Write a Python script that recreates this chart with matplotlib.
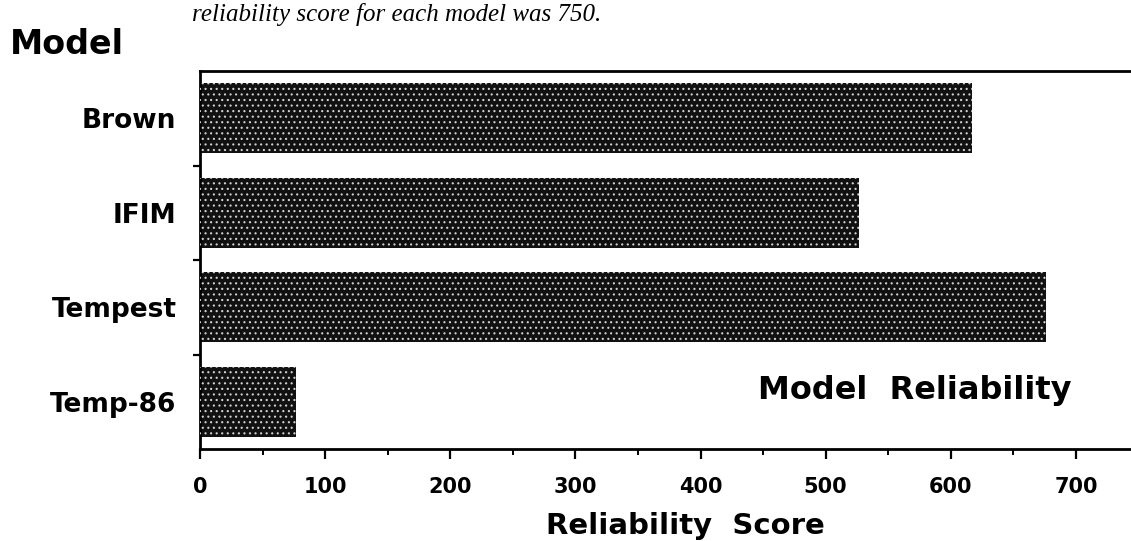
import matplotlib
matplotlib.use("Agg")
import matplotlib.pyplot as plt
import numpy as np

plt.rcParams["hatch.linewidth"] = 0.8

models = ["Brown", "IFIM", "Tempest", "Temp-86"]
scores = [617, 527, 676, 77]
xticks = [0, 100, 200, 300, 400, 500, 600, 700]

W, H = 1131, 541
fig = plt.figure(figsize=(W / 100, H / 100), dpi=100)
ax = fig.add_axes([200 / W, 1 - 449 / H, (W - 200) / W, (449 - 71) / H])

y = np.arange(len(models))
ax.barh(y, scores, height=0.74, color="#111111", linewidth=0, zorder=2)
ax.barh(y, scores, height=0.74, facecolor="none", edgecolor="#d0d0d0",
        hatch="...", linewidth=0, zorder=3)

ax.set_xlim(0, 744)
ax.set_ylim(3.5, -0.5)

ax.spines["right"].set_visible(False)
for s in ["left", "bottom", "top"]:
    ax.spines[s].set_linewidth(2.0)

ax.set_xticks(xticks)
ax.set_xticks(np.arange(50, 744, 100), minor=True)
ax.set_xticklabels([str(v) for v in xticks], fontsize=15, fontweight="bold",
                   family="DejaVu Sans")
ax.tick_params(axis="x", which="major", direction="out", length=7, width=1.6, pad=13)
ax.tick_params(axis="x", which="minor", direction="out", length=4, width=1.4)

ax.set_yticks(y)
ax.set_yticklabels(models, fontsize=19, fontweight="bold", family="DejaVu Sans")
ax.set_yticks([0.5, 1.5, 2.5], minor=True)
ax.tick_params(axis="y", which="major", length=0, pad=17)
ax.tick_params(axis="y", which="minor", direction="out", length=5, width=1.6)

fig.text(685 / W, 1 - 526 / H, "Reliability  Score", fontsize=21, fontweight="bold",
         ha="center", va="center")
fig.text(758 / W, 1 - 390 / H, "Model  Reliability", fontsize=23, fontweight="bold",
         ha="left", va="center")
fig.text(10 / W, 1 - 44 / H, "Model", fontsize=24, fontweight="bold",
         ha="left", va="center")
fig.text(192 / W, 1 - 14 / H, "reliability score for each model was 750.",
         fontsize=18, style="italic", family="Liberation Serif", ha="left", va="center")

fig.savefig("out.png", dpi=100)
